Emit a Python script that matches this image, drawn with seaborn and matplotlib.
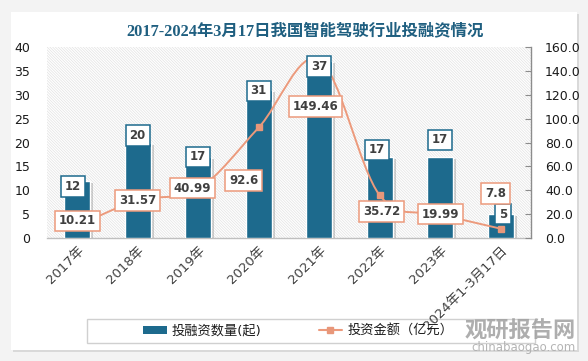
import numpy as np
import matplotlib
matplotlib.use('Agg')
import matplotlib.pyplot as plt
import seaborn as sns
from matplotlib.path import Path
from matplotlib.patches import PathPatch, Rectangle
from matplotlib.lines import Line2D
import matplotlib.patheffects as pe

# data
years = ['2017年', '2018年', '2019年', '2020年', '2021年', '2022年', '2023年', '2024年1-3月17日']
deal_counts = [12, 20, 17, 31, 37, 17, 17, 5]
amounts = [10.21, 31.57, 40.99, 92.6, 149.46, 35.72, 19.99, 7.8]
amount_labels = ['10.21', '31.57', '40.99', '92.6', '149.46', '35.72', '19.99', '7.8']
left_ticks = [0, 5, 10, 15, 20, 25, 30, 35, 40]
right_ticks = [0, 20, 40, 60, 80, 100, 120, 140, 160]

# label offsets (pixels) so the boxes sit where the original puts them
count_offsets = [(-4, -6), (0, 7), (0, 0), (0, -1), (0, -5), (-3, 7), (0, 17), (2, 0)]
amount_offsets = [(0, 5), (0, 0), (-6, 1), (-15, -53), (-4, -47), (2, -16), (0, 0), (-5, 35)]

BAR = '#1d6a8d'
LINE = '#ec9a7c'
MARK = '#e8977a'
TXT = '#404040'

sns.set_style('white')
plt.rcParams['font.family'] = ['DejaVu Sans', 'Noto Sans CJK SC']
plt.rcParams['hatch.linewidth'] = 0.5

fig = plt.figure(figsize=(5.88, 3.61), dpi=100, facecolor='#f3f3f3')

# white card with soft shadow
card = Rectangle((11 / 588, 1 - 350 / 361), 566 / 588, 338 / 361,
                 transform=fig.transFigure, facecolor='white', edgecolor='none', zorder=-5)
card.set_path_effects([pe.SimplePatchShadow(offset=(1.5, -1.5), shadow_rgbFace='#c8c8c8', alpha=0.6),
                       pe.Normal()])
fig.patches.append(card)

ax = fig.add_axes([47 / 588, 1 - 238 / 361, (531 - 47) / 588, 191 / 361])
ax.set_facecolor('white')
# hatched plot area
ax.add_patch(Rectangle((0, 0), 1, 1, transform=ax.transAxes, facecolor='white',
                       edgecolor='#e2e2e2', lw=0, hatch='\\' * 12, zorder=0))

sns.barplot(x=years, y=deal_counts, ax=ax, color=BAR, saturation=1, width=0.43,
            edgecolor='white', linewidth=1.0, zorder=3)
for bar in ax.patches[1:]:
    bar.set_path_effects([pe.SimplePatchShadow(offset=(2, -1.5), shadow_rgbFace='#6a6a6a', alpha=0.3),
                          pe.Normal()])

ax.set_xlim(-0.5, len(years) - 0.5)
ax.set_ylim(0, 40)
ax.set_yticks(left_ticks)
ax.set_yticklabels([str(t) for t in left_ticks])
ax.tick_params(axis='y', length=0, pad=12, labelsize=9, labelcolor='#1a1a1a')
ax.tick_params(axis='x', length=0, pad=4, labelsize=9.5, labelcolor=TXT)
for lab in ax.get_xticklabels():
    lab.set_rotation(45)
    lab.set_ha('right')
    lab.set_rotation_mode('anchor')
ax.set_xlabel('')
ax.set_ylabel('')
for s in ['left', 'top', 'right']:
    ax.spines[s].set_visible(False)
ax.spines['bottom'].set_color('#bfbfbf')
ax.spines['bottom'].set_linewidth(1.0)

ax2 = ax.twinx()
ax2.set_ylim(0, 160)
ax2.set_yticks(right_ticks)
ax2.set_yticklabels([f'{t:.1f}' for t in right_ticks])
ax2.tick_params(axis='y', direction='in', length=4, color='#8c8c8c', pad=10,
                labelsize=9, labelcolor='#1a1a1a')
for s in ['left', 'top', 'bottom']:
    ax2.spines[s].set_visible(False)
ax2.spines['right'].set_color('#8c8c8c')
ax2.spines['right'].set_linewidth(1.0)

# smooth line through the amounts (Catmull-Rom as cubic Bezier)
xs = np.arange(len(amounts), dtype=float)
pts = np.column_stack([xs, amounts])
verts = [tuple(pts[0])]
codes = [Path.MOVETO]
for i in range(len(pts) - 1):
    p0 = pts[i - 1] if i > 0 else pts[i]
    p1 = pts[i]
    p2 = pts[i + 1]
    p3 = pts[i + 2] if i + 2 < len(pts) else pts[i + 1]
    c1 = p1 + (p2 - p0) / 6
    c2 = p2 - (p3 - p1) / 6
    verts += [tuple(c1), tuple(c2), tuple(p2)]
    codes += [Path.CURVE4] * 3
ax2.add_patch(PathPatch(Path(verts, codes), facecolor='none', edgecolor=LINE, lw=1.4, zorder=4))
ax2.plot(xs, amounts, ls='none', marker='s', ms=5, color=MARK, zorder=5)

# bar value labels (drawn on ax2 so they sit above the line)
for i, v in enumerate(deal_counts):
    dx, dy = count_offsets[i]
    ax2.annotate(str(v), xy=(i, v), xycoords=ax.transData, xytext=(dx, dy),
                 textcoords='offset pixels', ha='center', va='center',
                 fontsize=8.5, fontweight='bold', color=TXT, zorder=6,
                 bbox=dict(boxstyle='square,pad=0.32', fc='white', ec=BAR, lw=1.1))

for i, v in enumerate(amounts):
    dx, dy = amount_offsets[i]
    ax2.annotate(amount_labels[i], xy=(i, v), xytext=(dx, dy),
                 textcoords='offset pixels', ha='center', va='center',
                 fontsize=8.5, fontweight='bold', color=TXT, zorder=7,
                 bbox=dict(boxstyle='square,pad=0.32', fc='white', ec=LINE, lw=1.1))

fig.text(305 / 588, 1 - 31 / 361, '2017-2024年3月17日我国智能驾驶行业投融资情况',
         ha='center', va='center', fontsize=11.8, fontweight='bold', color='#1f5f80',
         family=['Liberation Serif', 'Noto Sans CJK SC'])

# legend: frame drawn separately (behind the axes, so the long tick label shows over it)
fig.patches.append(Rectangle((87 / 588, 1 - 343 / 361), (535 - 87) / 588, 24 / 361,
                             transform=fig.transFigure, facecolor='white',
                             edgecolor='#d0d0d0', lw=1.0, zorder=-1))
handles = [Rectangle((0, 0), 1, 1, facecolor=BAR, edgecolor='none'),
           Line2D([], [], color=LINE, lw=1.5, marker='s', ms=5, markerfacecolor=MARK, markeredgecolor=MARK)]
leg = fig.legend(handles, ['投融资数量(起)', '投资金额（亿元）'], loc='center left',
                 bbox_to_anchor=(143 / 588, 1 - 331 / 361), ncol=2, frameon=False,
                 fontsize=9.5, handlelength=1.8, handleheight=0.5, handletextpad=0.4,
                 columnspacing=4.3, borderpad=0, borderaxespad=0)
for t in leg.get_texts():
    t.set_color('#1a1a1a')

# watermark
fig.text(576 / 588, 1 - 331 / 361, '观研报告网', ha='right', va='center', fontsize=16,
         fontweight='bold', color='#a0a0a0', family=['Noto Sans CJK SC'], alpha=0.85)
fig.text(576 / 588, 1 - 348 / 361, 'chinabaogao.com', ha='right', va='center', fontsize=8.5,
         color='#a8a8a8', alpha=0.85)

fig.savefig('out.png', dpi=100, facecolor=fig.get_facecolor())
